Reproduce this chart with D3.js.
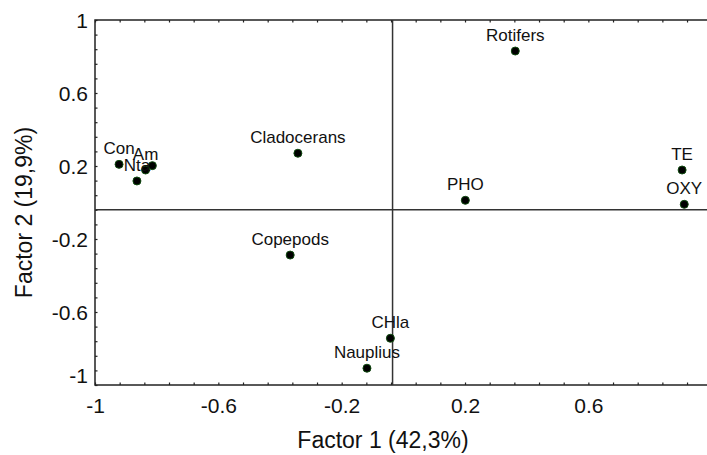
<!DOCTYPE html>
<html>
<head>
<meta charset="utf-8">
<script src="https://cdn.jsdelivr.net/npm/d3@7"></script>
<style>
  body { margin: 0; background: #fff; }
  text { font-family: "Liberation Sans", Arial, sans-serif; fill: #111; }
</style>
</head>
<body>
<div id="chart"></div>
<script>
// data
var names = ["Con", "Am", "Nta", "", "Cladocerans", "Rotifers", "PHO", "TE", "OXY", "Copepods", "CHla", "Nauplius"];
var factor1 = [-0.922, -0.836, -0.864, -0.814, -0.342, 0.363, 0.201, 0.904, 0.911, -0.367, -0.042, -0.118];
var factor2 = [0.209, 0.178, 0.118, 0.202, 0.270, 0.830, 0.012, 0.178, -0.010, -0.288, -0.744, -0.908];
var tickValues = [-1, -0.6, -0.2, 0.2, 0.6, 1];
var tickLabels = ["-1", "-0.6", "-0.2", "0.2", "0.6", "1"];
var crossX = -0.035, crossY = -0.04;

var W = 707, H = 455;
var svg = d3.select("#chart").append("svg")
    .attr("width", W)
    .attr("height", H);

var x = d3.scaleLinear().domain([-1, 1]).range([95, 711.7]);
var y = d3.scaleLinear().domain([-1, 1]).range([385, 20]);

var minor = d3.range(-1, 1.0001, 0.08);

// frame
svg.append("rect")
    .attr("x", x(-1)).attr("y", y(1))
    .attr("width", x(1) - x(-1)).attr("height", y(-1) - y(1))
    .attr("fill", "none").attr("stroke", "#222").attr("stroke-width", 1.5);

// inward ticks
function ticks(axis, sel, size) {
    sel.call(axis.tickValues(minor).tickSize(size).tickFormat(""));
    sel.select(".domain").remove();
    sel.selectAll("line").attr("stroke", "#222").attr("stroke-width", 1.2);
}
ticks(d3.axisBottom(x), svg.append("g").attr("transform", "translate(0," + y(-1) + ")"), -2.5);
ticks(d3.axisTop(x), svg.append("g").attr("transform", "translate(0," + y(1) + ")"), -2.5);
ticks(d3.axisLeft(y), svg.append("g").attr("transform", "translate(" + x(-1) + ",0)"), -2.5);

// tick labels
var fmt = function(d) { return tickLabels[tickValues.indexOf(d)]; };
var xl = svg.append("g").attr("transform", "translate(0," + y(-1) + ")")
    .call(d3.axisBottom(x).tickValues(tickValues).tickSize(0).tickPadding(13).tickFormat(fmt));
xl.select(".domain").remove();
xl.selectAll("text").attr("font-size", 21).attr("font-family", "Liberation Sans, Arial, sans-serif").attr("fill", "#111");

var yl = svg.append("g").attr("transform", "translate(" + x(-1) + ",0)")
    .call(d3.axisLeft(y).tickValues(tickValues).tickSize(0).tickPadding(7).tickFormat(fmt));
yl.select(".domain").remove();
yl.selectAll("text").attr("font-size", 21).attr("font-family", "Liberation Sans, Arial, sans-serif").attr("fill", "#111")
    .attr("dy", function(d) { return d === -1 ? "-0.12em" : "0.36em"; });

// cross lines
svg.append("line")
    .attr("x1", x(crossX)).attr("x2", x(crossX))
    .attr("y1", y(1)).attr("y2", y(-1))
    .attr("stroke", "#333").attr("stroke-width", 1.5);
svg.append("line")
    .attr("x1", x(-1)).attr("x2", x(1))
    .attr("y1", y(crossY)).attr("y2", y(crossY))
    .attr("stroke", "#333").attr("stroke-width", 1.5);

// points
var pts = names.map(function(n, i) { return { name: n, f1: factor1[i], f2: factor2[i] }; });

svg.selectAll("circle.pt")
    .data(pts)
    .enter().append("circle")
    .attr("class", "pt")
    .attr("cx", function(d) { return x(d.f1); })
    .attr("cy", function(d) { return y(d.f2); })
    .attr("r", 4)
    .attr("fill", "#000")
    .attr("stroke", "#0f4a0f")
    .attr("stroke-width", 1);

svg.selectAll("text.lbl")
    .data(pts)
    .enter().append("text")
    .attr("class", "lbl")
    .attr("x", function(d) { return x(d.f1); })
    .attr("y", function(d) { return y(d.f2) - 10; })
    .attr("text-anchor", "middle")
    .attr("font-size", 17)
    .text(function(d) { return d.name; });

// axis titles
svg.append("text")
    .attr("x", 383).attr("y", 448)
    .attr("text-anchor", "middle")
    .attr("font-size", 23)
    .text("Factor 1 (42,3%)");

svg.append("text")
    .attr("transform", "translate(32,212.5) rotate(-90)")
    .attr("text-anchor", "middle")
    .attr("font-size", 23)
    .text("Factor 2 (19,9%)");
</script>
</body>
</html>
